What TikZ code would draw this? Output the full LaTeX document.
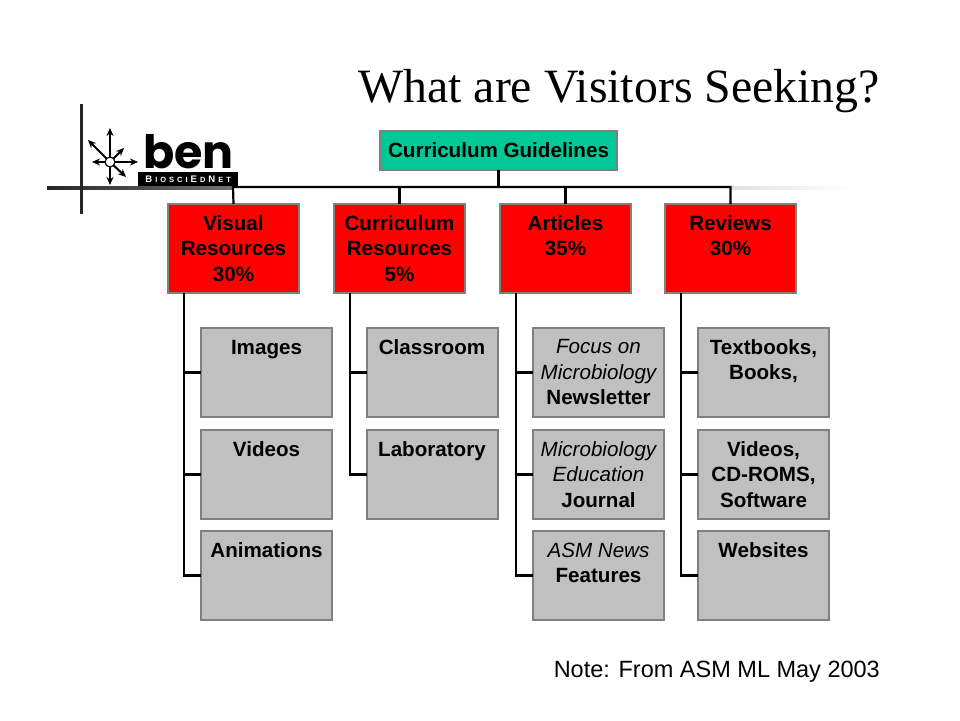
\documentclass[tikz,border=0pt]{standalone}
\usepackage{fontspec}
\setmainfont{Liberation Sans}
\newfontfamily\titlefont{Liberation Serif}
\newfontfamily\benfont{Poppins}
\usepackage{xcolor}
\usetikzlibrary{arrows.meta}
\definecolor{rootfill}{RGB}{0,200,150}
\definecolor{boxgray}{RGB}{192,192,192}
\definecolor{boxedge}{RGB}{128,128,128}

\tikzset{
    box/.style = {draw = boxedge, line width = 2pt, anchor = north west, outer sep = 0pt,
        inner sep = 0pt, align = center, text = black, font = \fontsize{20.6}{25.5}\selectfont\bfseries},
    rootbox/.style = {box, fill = rootfill, minimum width = 237, minimum height = 39},
    topicbox/.style = {box, fill = red, minimum width = 131, minimum height = 89},
    itembox/.style = {box, fill = boxgray, minimum width = 131, minimum height = 89},
    conn/.style = {line width = 2.2pt, black},
    frameline/.style = {line width = 3pt, color = black!85},
    ray/.style = {line width = 2pt, black, -{Stealth[length = 8pt, width = 7pt]}}
}
\newcommand{\ital}[1]{{\mdseries\itshape #1}}
\newcommand{\benkern}{\kern3pt}
\newcommand{\bencap}[1]{{\fontsize{9.5}{9.5}\selectfont #1}}

\begin{document}
\begin{tikzpicture}[x = 1pt, y = -1pt]
    \useasboundingbox (0, 0) rectangle (960, 720);

    \node[anchor = base east, inner sep = 0pt, font = \titlefont\fontsize{47.8}{48}\selectfont] (title) at (880, 102) {What are Visitors Seeking?};
    \node[anchor = base east, inner sep = 0pt, font = \fontsize{23.5}{24}\selectfont] (note) at (880, 677) {Note: From ASM ML May 2003};

    % logo frame
    \fill[left color = black!85, right color = black!55] (47, 186.5) rectangle (233, 189.5);
    \fill[left color = black!12, right color = white] (730, 186.5) rectangle (850, 189.5);
    \draw[frameline] (81, 104) -- (81, 214);

    % logo
    \coordinate (hub) at (110, 162);
    \coordinate (rayn) at (110, 128);
    \coordinate (raynw) at (88, 140);
    \coordinate (rayne) at (124, 148);
    \coordinate (raye) at (138, 162);
    \coordinate (rayse) at (126, 177);
    \coordinate (rays) at (110, 185);
    \coordinate (rayw) at (92, 162);
    \draw[ray] (hub) -- (rayn);
    \draw[ray] (hub) -- (raynw);
    \draw[ray] (hub) -- (rayne);
    \draw[ray] (hub) -- (raye);
    \draw[ray] (hub) -- (rayse);
    \draw[ray] (hub) -- (rays);
    \draw[ray] (hub) -- (rayw);
    \filldraw[color = black, fill = white, line width = 1.2pt] (hub) circle(5);
    \node[anchor = base west, inner sep = 0pt, font = \benfont\bfseries\fontsize{46}{46}\selectfont] (ben) at (143, 168) {ben};
    \node[anchor = north west, fill = black, text = white, minimum width = 100, minimum height = 14, inner sep = 0pt,
        font = \bfseries\fontsize{7.5}{7.5}\selectfont] (benbar) at (138, 172)
        {\bencap{B}\benkern I\benkern O\benkern S\benkern C\benkern I\benkern\bencap{E}\benkern D\benkern\bencap{N}\benkern E\benkern T};

    % boxes
    \node[rootbox] (root) at (380, 131) {Curriculum Guidelines};

    \node[topicbox] (visual) at (168, 204) {Visual\\Resources\\30\%};
    \node[topicbox] (curriculum) at (334, 204) {Curriculum\\Resources\\5\%};
    \node[topicbox] (articles) at (500, 204) {Articles\\35\%\\~};
    \node[topicbox] (reviews) at (665, 204) {Reviews\\30\%\\~};

    \node[itembox] (images) at (201, 328) {Images\\~\\~};
    \node[itembox] (videos) at (201, 430) {Videos\\~\\~};
    \node[itembox] (animations) at (201, 531) {Animations\\~\\~};

    \node[itembox] (classroom) at (366.5, 328) {Classroom\\~\\~};
    \node[itembox] (laboratory) at (366.5, 430) {Laboratory\\~\\~};

    \node[itembox] (focus) at (533, 328) {\ital{Focus on}\\\ital{Microbiology}\\Newsletter};
    \node[itembox] (journal) at (533, 430) {\ital{Microbiology}\\\ital{Education}\\Journal};
    \node[itembox] (news) at (533, 531) {\ital{ASM News}\\Features\\~};

    \node[itembox] (textbooks) at (698, 328) {Textbooks,\\Books,\\~};
    \node[itembox] (media) at (698, 430) {Videos,\\CD-ROMS,\\Software};
    \node[itembox] (websites) at (698, 531) {Websites\\~\\~};

    % connectors
    \coordinate (busleft) at (233, 187);
    \draw[conn] (root.south) -- (root.south |- busleft);
    \draw[conn] (visual.north) -- (busleft) -- (busleft -| reviews.north) -- (reviews.north);
    \draw[conn] (curriculum.north) -- (curriculum.north |- busleft);
    \draw[conn] (articles.north) -- (articles.north |- busleft);

    \draw[conn] ([xshift = 16]visual.south west) |- (images.west);
    \draw[conn] ([xshift = 16]visual.south west) |- (videos.west);
    \draw[conn] ([xshift = 16]visual.south west) |- (animations.west);

    \draw[conn] ([xshift = 16]curriculum.south west) |- (classroom.west);
    \draw[conn] ([xshift = 16]curriculum.south west) |- (laboratory.west);

    \draw[conn] ([xshift = 16]articles.south west) |- (focus.west);
    \draw[conn] ([xshift = 16]articles.south west) |- (journal.west);
    \draw[conn] ([xshift = 16]articles.south west) |- (news.west);

    \draw[conn] ([xshift = 16]reviews.south west) |- (textbooks.west);
    \draw[conn] ([xshift = 16]reviews.south west) |- (media.west);
    \draw[conn] ([xshift = 16]reviews.south west) |- (websites.west);
\end{tikzpicture}
\end{document}
